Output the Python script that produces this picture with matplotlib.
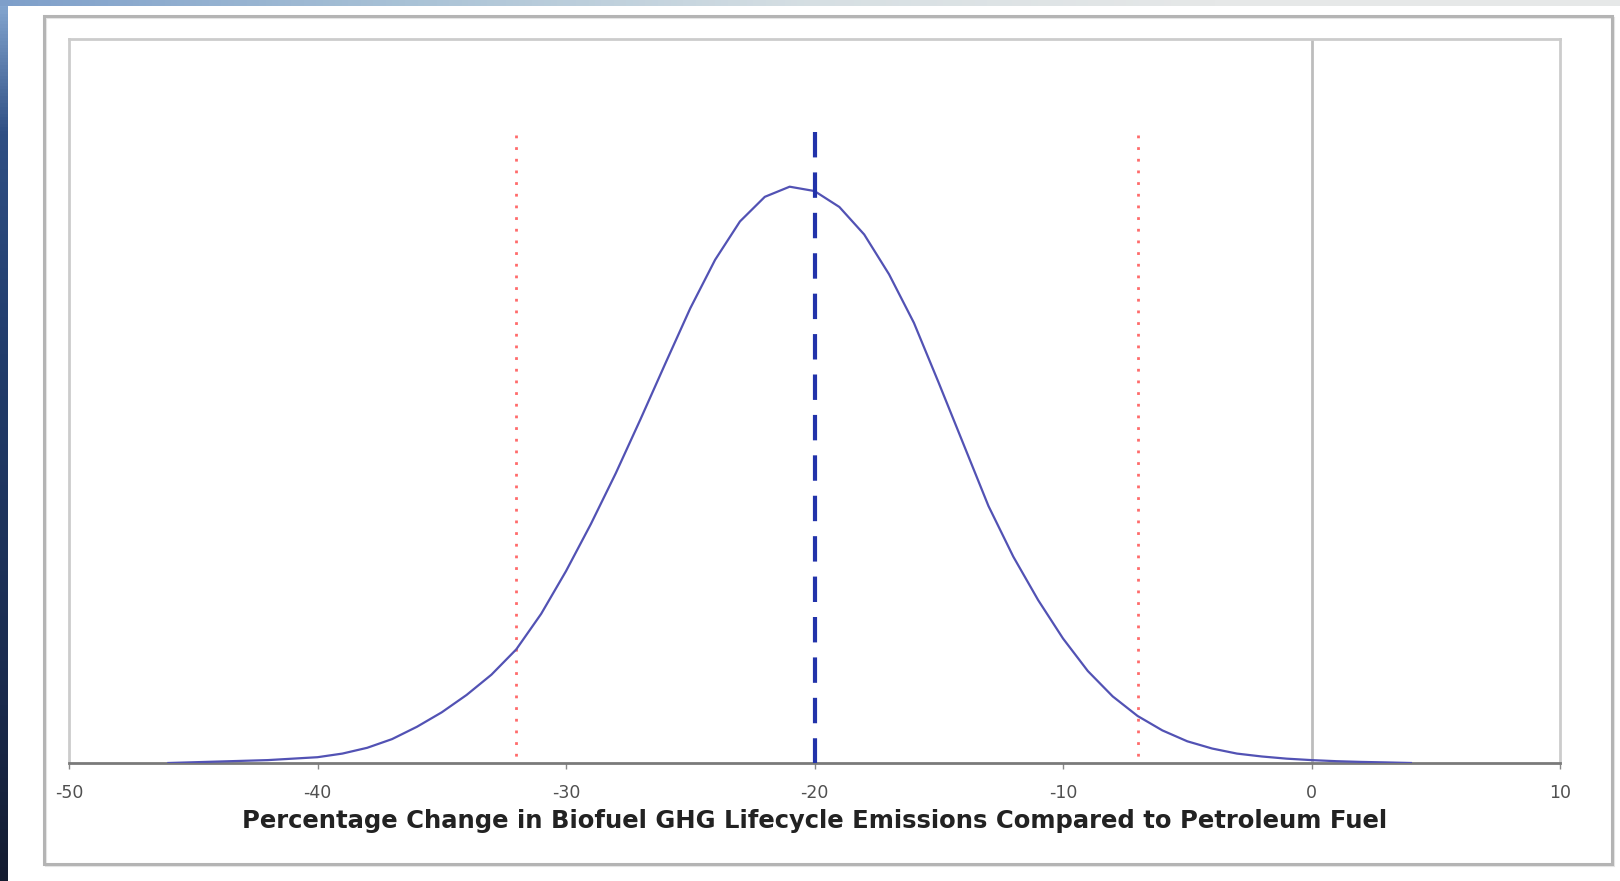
import numpy as np
import matplotlib
matplotlib.use("Agg")
import matplotlib.pyplot as plt
from matplotlib.patches import Rectangle
from matplotlib.colors import LinearSegmentedColormap

# ---- data ----
curve_x = [-46, -45, -44, -43, -42, -41, -40, -39, -38, -37, -36, -35, -34, -33, -32,
           -31, -30, -29, -28, -27, -26, -25, -24, -23, -22, -21, -20, -19, -18, -17,
           -16, -15, -14, -13, -12, -11, -10, -9, -8, -7, -6, -5, -4, -3, -2, -1,
           0, 1, 2, 3, 4]
curve_y = [0.000, 0.001, 0.002, 0.003, 0.004, 0.006, 0.008, 0.013, 0.021, 0.033, 0.050,
           0.070, 0.094, 0.122, 0.157, 0.206, 0.265, 0.330, 0.400, 0.475, 0.552, 0.628,
           0.695, 0.748, 0.782, 0.796, 0.790, 0.768, 0.730, 0.675, 0.608, 0.525, 0.440,
           0.355, 0.285, 0.225, 0.172, 0.127, 0.092, 0.065, 0.045, 0.030, 0.020, 0.013,
           0.009, 0.006, 0.004, 0.0025, 0.0015, 0.0008, 0.000]
mean_value = -20
ci_low, ci_high = -32, -7
ref_value = 0
mean_top = 0.872
ci_top = 0.868
xticks = [-50, -40, -30, -20, -10, 0, 10]
xlabel = "Percentage Change in Biofuel GHG Lifecycle Emissions Compared to Petroleum Fuel"

W, H = 1620, 881
fig = plt.figure(figsize=(W / 100, H / 100), dpi=100)
fig.patch.set_facecolor("white")

# slide decoration: left gradient strip, top gradient strip, outer chart frame
bg = fig.add_axes([0, 0, 1, 1], zorder=-10)
bg.set_xlim(0, W)
bg.set_ylim(H, 0)
bg.axis("off")
left_grad = np.linspace(0, 1, 256).reshape(-1, 1)
cm_left = LinearSegmentedColormap.from_list(
    "l", [(0, "#86a8d2"), (0.15, "#2f4f84"), (0.4, "#223d6c"), (0.8, "#1a2a4c"), (1, "#141c30")])
bg.imshow(left_grad, cmap=cm_left, extent=[0, 8, H, 0], aspect="auto")
top_grad = np.linspace(0, 1, 256).reshape(1, -1)
cm_top = LinearSegmentedColormap.from_list("t", ["#7e9fca", "#a9c2d6", "#d6dfe3", "#e6e8e8", "#e6e8e8"])
bg.imshow(top_grad, cmap=cm_top, extent=[0, W, 6, 0], aspect="auto")
bg.add_patch(Rectangle((44, 16), 1568, 848, fill=False, edgecolor="#b4b4b4", lw=2.2))
bg.add_patch(Rectangle((46, 18), 1568, 848, fill=False, edgecolor="#e6e6e6", lw=1.5, zorder=-1))

ax = fig.add_axes([69 / W, 1 - 763 / H, (1560 - 69) / W, (763 - 39) / H])
ax.set_xlim(-50, 10)
ax.set_ylim(0, 1)

ax.plot(curve_x, curve_y, color="#5252b4", lw=1.6, solid_joinstyle="round", zorder=3)
ax.plot([ref_value, ref_value], [0, 1], color="#bdbdbd", lw=2, zorder=1)
# dashed / dotted lines drawn from the top down so the pattern starts at the top
ax.plot([mean_value, mean_value], [mean_top, 0], color="#2233aa", lw=3,
        linestyle=(0, (6.1, 3.6)), zorder=4)
for v in (ci_low, ci_high):
    ax.plot([v, v], [ci_top, 0], color="#ff6b6b", lw=2.0, linestyle=(0, (1, 3.2)), zorder=2)

for s in ("top", "left", "right"):
    ax.spines[s].set_color("#cccccc")
    ax.spines[s].set_linewidth(2)
ax.spines["bottom"].set_color("#7a7a7a")
ax.spines["bottom"].set_linewidth(2)

ax.set_yticks([])
ax.set_xticks(xticks)
ax.set_xticklabels([str(t) for t in xticks], fontsize=12.5, color="#505050",
                   family=["DejaVu Sans"])
ax.tick_params(axis="x", length=4, width=1, color="#888888", pad=11)
ax.set_xlabel(xlabel, fontsize=17.5, fontweight="bold", color="#222222",
              family=["DejaVu Sans"], labelpad=5)

fig.savefig("out.png", dpi=100, facecolor="white")
